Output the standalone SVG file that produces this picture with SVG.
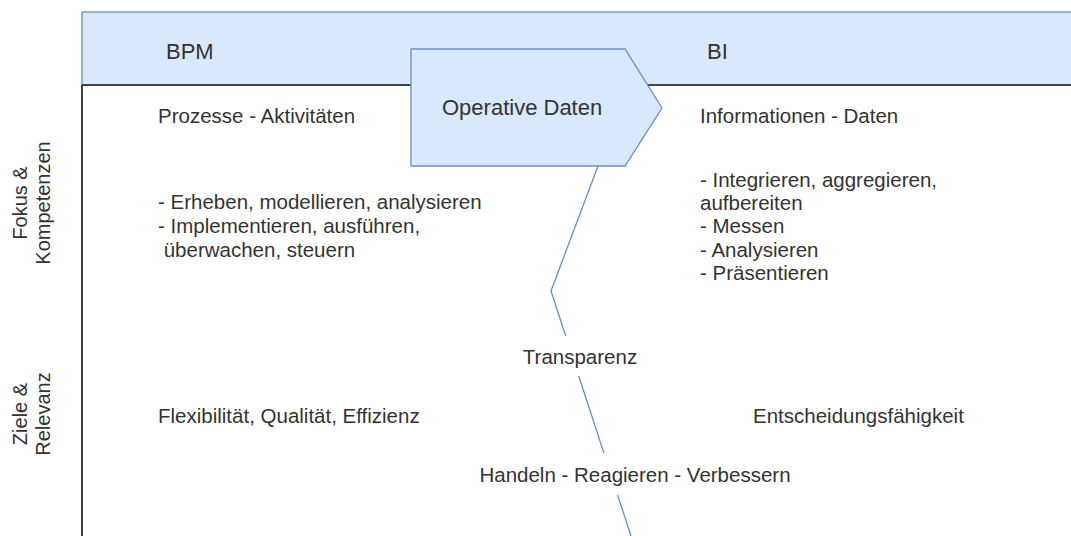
<svg xmlns="http://www.w3.org/2000/svg" width="1071" height="536" viewBox="0 0 1071 536">
  <style>
    .t { font-family: "Liberation Sans", Arial, sans-serif; font-size: 20.5px; fill: #333333; }
    .h { font-size: 22px; }
    .v { font-size: 20px; }
    .blue { fill: #dae8fc; stroke: #6c8ebf; stroke-width: 1.3; }
    .edge { fill: none; stroke: #6c8ebf; stroke-width: 1.3; }
    .bg { fill: #ffffff; }
  </style>
  <rect width="1071" height="536" fill="#ffffff"/>

  <!-- pool frame: header band and left boundary -->
  <g id="frame">
    <rect class="blue" x="82" y="12" width="1000" height="73"/>
    <line x1="82" y1="85" x2="1071" y2="85" stroke="#444444" stroke-width="2"/>
    <line x1="82" y1="85" x2="82" y2="536" stroke="#000000" stroke-width="1.5"/>
  </g>

  <g id="header-bpm"><text class="t h" x="166" y="59">BPM</text></g>
  <g id="header-bi"><text class="t h" x="707" y="59">BI</text></g>

  <g id="row-fokus">
    <text class="t v" text-anchor="middle" transform="translate(27,203) rotate(-90)">Fokus &amp;</text>
    <text class="t v" text-anchor="middle" transform="translate(50,203) rotate(-90)">Kompetenzen</text>
  </g>
  <g id="row-ziele">
    <text class="t v" text-anchor="middle" transform="translate(27,414) rotate(-90)">Ziele &amp;</text>
    <text class="t v" text-anchor="middle" transform="translate(50,414) rotate(-90)">Relevanz</text>
  </g>

  <!-- connector with its labels -->
  <g id="connectors">
    <polyline class="edge" points="598,166 551,291 631,536"/>
    <rect class="bg" x="520" y="336" width="120" height="40"/>
    <text class="t" x="580" y="364" text-anchor="middle">Transparenz</text>
    <rect class="bg" x="476" y="453" width="320" height="42"/>
    <text class="t" x="635" y="482" text-anchor="middle">Handeln - Reagieren - Verbessern</text>
  </g>

  <g id="operative-daten">
    <polygon class="blue" points="411,49 625,49 662,108 625,166 411,166"/>
    <text class="t h" x="442" y="115">Operative Daten</text>
  </g>

  <g id="bpm-prozesse"><text class="t" x="158" y="123">Prozesse - Aktivitäten</text></g>
  <g id="bpm-kompetenzen">
    <text class="t" x="158" y="209">- Erheben, modellieren, analysieren</text>
    <text class="t" x="158" y="233">- Implementieren, ausführen,</text>
    <text class="t" x="158" y="257" xml:space="preserve"> überwachen, steuern</text>
  </g>
  <g id="bpm-ziele"><text class="t" x="158" y="423">Flexibilität, Qualität, Effizienz</text></g>

  <g id="bi-informationen"><text class="t" x="700" y="123">Informationen - Daten</text></g>
  <g id="bi-kompetenzen">
    <text class="t" x="700" y="187">- Integrieren, aggregieren,</text>
    <text class="t" x="700" y="210">aufbereiten</text>
    <text class="t" x="700" y="233">- Messen</text>
    <text class="t" x="700" y="257">- Analysieren</text>
    <text class="t" x="700" y="280">- Präsentieren</text>
  </g>
  <g id="bi-ziele"><text class="t" x="753" y="423">Entscheidungsfähigkeit</text></g>
</svg>
